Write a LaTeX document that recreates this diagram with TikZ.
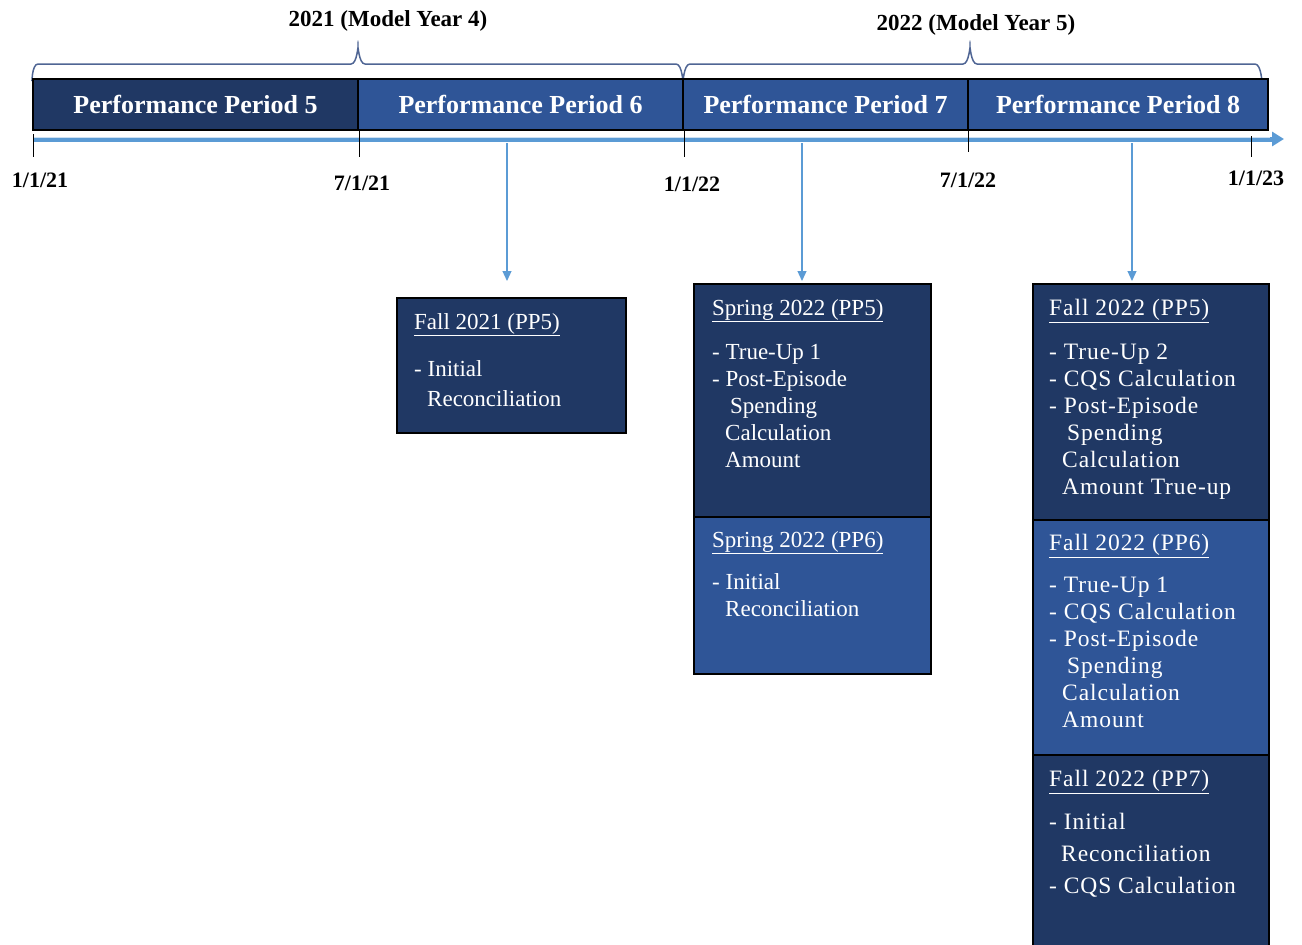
\documentclass[tikz,border=0pt]{standalone}
\usepackage{fontspec}
\setmainfont{Liberation Serif}
\usetikzlibrary{arrows.meta}
\definecolor{navy}{HTML}{203864}
\definecolor{midblue}{HTML}{2F5597}
\definecolor{lineblue}{HTML}{5B9BD5}
\definecolor{bracecol}{HTML}{4F6594}
\tikzset{
  seg/.style={draw=black, line width=1.5pt, minimum height=51pt, inner sep=0pt, text=white,
    font=\fontsize{26}{30}\selectfont\bfseries},
  card/.style={draw=black, line width=1.5pt, inner sep=0pt},
  txt/.style={text=white, align=left, inner sep=0pt, anchor=north west,
    font=\fontsize{23}{27}\selectfont},
  wtxt/.style={txt, font=\fontsize{23.5}{27}\selectfont\addfontfeatures{LetterSpace=4}},
  datelab/.style={font=\fontsize{22}{26}\selectfont\bfseries, inner sep=0pt},
  yearlab/.style={font=\fontsize{23}{26}\selectfont\bfseries, inner sep=0pt},
  tick/.style={black, line width=1pt},
  brace/.style={bracecol, line width=1.5pt},
  drop/.style={lineblue, line width=1.2pt, -{Triangle[length=10pt,width=9pt]}},
}
\begin{document}
\begin{tikzpicture}[x=1pt,y=-1pt]
\useasboundingbox (0,0) rectangle (1302,945);
\clip (0,0) rectangle (1302,945);
% year labels and braces
\node[yearlab] (y21) at (388,21) {2021 (Model Year 4)};
\node[yearlab] (y22) at (976,25) {2022 (Model Year 5)};
\draw[brace] (32,80) to[out=-90,in=180] (38,64) -- (351,64) to[out=0,in=90] (358,49)
  to[out=90,in=180] (365,64) -- (676,64) to[out=0,in=-90] (683,80);
\draw[brace] (683,80) to[out=-90,in=180] (690,64) -- (963,64) to[out=0,in=90] (970,49)
  to[out=90,in=180] (977,64) -- (1255,64) to[out=0,in=-90] (1262,80);
% performance period bar
\node[seg, fill=navy, minimum width=325pt] (pp5) at (195.5,104.5) {Performance Period 5};
\node[seg, fill=midblue, minimum width=325pt] (pp6) at (520.5,104.5) {Performance Period 6};
\node[seg, fill=midblue, minimum width=285pt] (pp7) at (825.5,104.5) {Performance Period 7};
\node[seg, fill=midblue, minimum width=300pt] (pp8) at (1118,104.5) {Performance Period 8};
% timeline
\coordinate (tl0) at (33,139);
\coordinate (tl1) at (1284,139);
\draw[lineblue, line width=5pt, -{Triangle[length=12pt,width=14pt]}] (tl0) -- (tl1);
\draw[white!70!lineblue, line width=1pt] (33,137.5) -- (1270,137.5);
% ticks
\foreach \x/\a/\b in {33/134/157, 359/131/157, 684/131/157, 968/131/152, 1251/136/157}
  \draw[tick] (\x,\a) -- (\x,\b);
% dates
\node[datelab] (d1) at (40,180) {1/1/21};
\node[datelab] (d2) at (362,183) {7/1/21};
\node[datelab] (d3) at (692,184) {1/1/22};
\node[datelab] (d4) at (968,180) {7/1/22};
\node[datelab] (d5) at (1256,178) {1/1/23};
% cards
\node[card, fill=navy, minimum width=229pt, minimum height=135pt, anchor=north west] (c1) at (396,297) {};
\node[card, fill=navy, minimum width=237pt, minimum height=233pt, anchor=north west] (c2a) at (693,283) {};
\node[card, fill=midblue, minimum width=237pt, minimum height=157pt, anchor=north west] (c2b) at (693,516) {};
\node[card, fill=navy, minimum width=236pt, minimum height=236pt, anchor=north west] (c3a) at (1032,283) {};
\node[card, fill=midblue, minimum width=236pt, minimum height=235pt, anchor=north west] (c3b) at (1032,519) {};
\node[card, fill=navy, minimum width=236pt, minimum height=220pt, anchor=north west] (c3c) at (1032,754) {};
% drop arrows
\coordinate (s1) at (507,143);
\coordinate (s2) at (802,143);
\coordinate (s3) at (1132,143);
\coordinate (e1) at (507,281);
\coordinate (e2) at (802,281);
\coordinate (e3) at (1132,281);
\draw[drop] (s1) -- (e1);
\draw[drop] (s2) -- (e2);
\draw[drop] (s3) -- (e3);
% card texts
\node[txt] (t1) at (414,313) {\underline{Fall 2021 (PP5)}\\[20pt]- Initial\\[3pt]\hspace*{13pt}Reconciliation};
\node[txt] (t2a) at (712,299) {\underline{Spring 2022 (PP5)}\\[17pt]- True-Up 1\\- Post-Episode\\\hspace*{18pt}Spending\\\hspace*{13pt}Calculation\\\hspace*{13pt}Amount};
\node[txt] (t2b) at (712,531) {\underline{Spring 2022 (PP6)}\\[15pt]- Initial\\\hspace*{13pt}Reconciliation};
\node[wtxt] (t3a) at (1049,299) {\underline{Fall 2022 (PP5)}\\[17pt]- True-Up 2\\- CQS Calculation\\- Post-Episode\\\hspace*{18pt}Spending\\\hspace*{13pt}Calculation\\\hspace*{13pt}Amount True-up};
\node[wtxt] (t3b) at (1049,534) {\underline{Fall 2022 (PP6)}\\[15pt]- True-Up 1\\- CQS Calculation\\- Post-Episode\\\hspace*{18pt}Spending\\\hspace*{13pt}Calculation\\\hspace*{13pt}Amount};
\node[wtxt] (t3c) at (1049,770) {\underline{Fall 2022 (PP7)}\\[16pt]- Initial\\[5pt]\hspace*{12pt}Reconciliation\\[5pt]- CQS Calculation};
\end{tikzpicture}
\end{document}
